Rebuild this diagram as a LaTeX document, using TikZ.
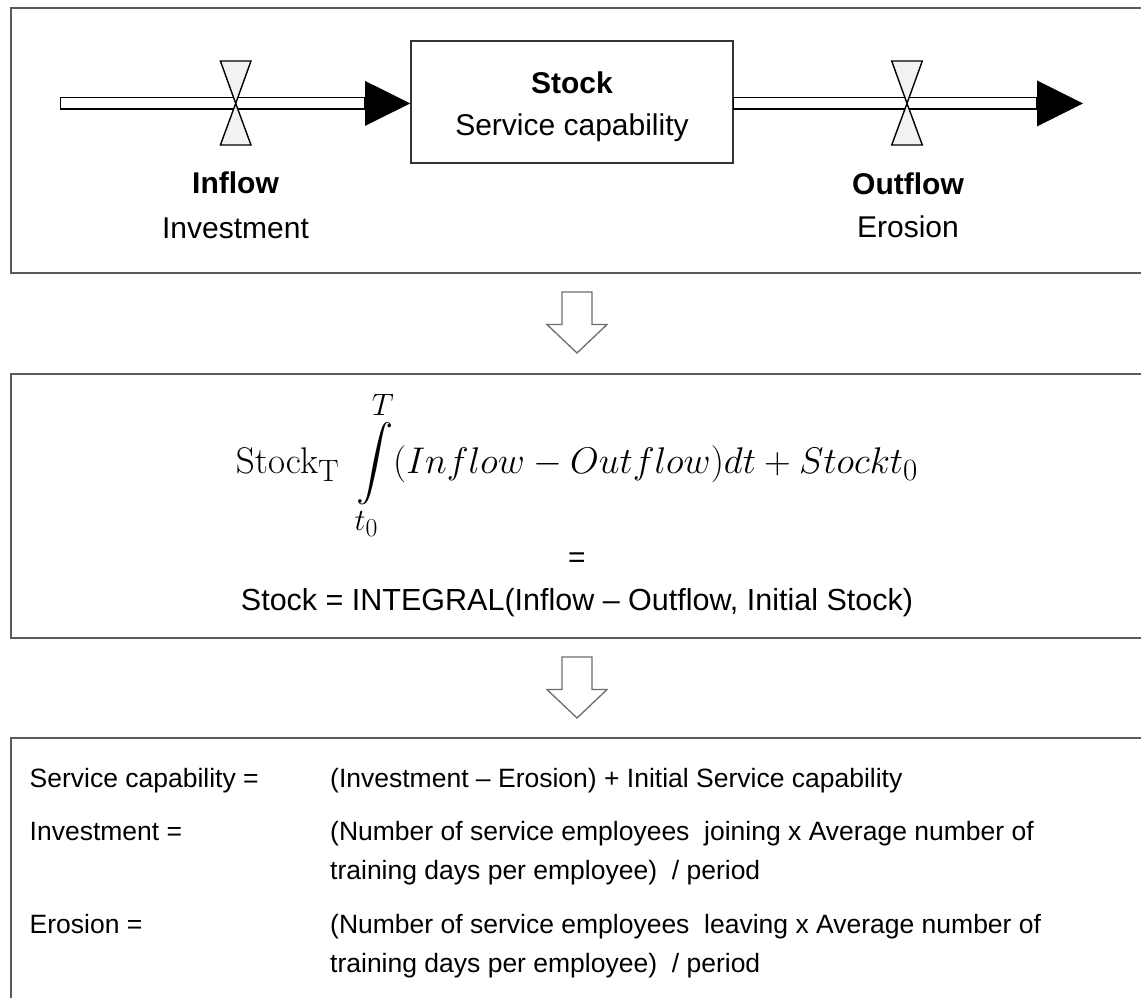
\documentclass[tikz,border=0pt]{standalone}
\usepackage[no-math]{fontspec}
\setmainfont{Liberation Sans}
\usepackage{exscale}
\usepackage{graphicx}
\usetikzlibrary{calc}

\definecolor{panelgrey}{HTML}{5A5A5A}
\definecolor{valvefill}{HTML}{F2F2F2}
\definecolor{arrowgrey}{HTML}{6E6E6E}

\tikzset{
  panel/.style={draw=panelgrey, line width=2pt, anchor=north west, inner sep=0pt, minimum width=1200pt},
  stockbox/.style={draw=black!80, line width=1.4pt, inner sep=0pt, minimum width=322pt, minimum height=122pt},
  pipebody/.style={draw=black, fill=white, line width=1.3pt},
  headfill/.style={fill=black},
  valve/.style={draw=black, fill=valvefill, line width=1.4pt, line join=miter},
  blockarrow/.style={draw=arrowgrey, fill=white, line width=1.3pt, line join=miter},
  bigtext/.style={font=\fontsize{30}{36}\selectfont, inner sep=0pt, anchor=base},
  listtext/.style={font=\fontsize{26.5}{32}\selectfont, inner sep=0pt, anchor=base west},
}

\begin{document}
\begin{tikzpicture}[x=1pt, y=-1pt]
\useasboundingbox (0,0) rectangle (1141,997);
\clip (0,0) rectangle (1141,997);
\fill[white] (0,0) rectangle (1141,997);

% three panels, open to the right and bottom
\node[panel, minimum height=264.5pt] (toppanel) at (9.5,7) {};
\node[panel, minimum height=264pt] (midpanel) at (9.5,373) {};
\node[panel, minimum height=300pt] (botpanel) at (9.5,737) {};

% stock box
\node[stockbox] (stock) at (572,102) {};
\node[bigtext] (stocktitle) at (572,93) {\bfseries Stock};
\node[bigtext] (stocksub) at (572,135) {Service capability};

% pipe geometry
\coordinate (src) at (60.7,103.4);
\coordinate (inbase) at (365,103.4);
\coordinate (intip) at (stock.west |- src);
\coordinate (outstart) at (stock.east |- src);
\coordinate (outbase) at (1037,103.4);
\coordinate (sink) at (1083,103.4);

\draw[pipebody] ([yshift=5.6pt]src) rectangle ([yshift=-5.6pt]inbase);
\draw[pipebody] ([yshift=5.6pt]outstart) rectangle ([yshift=-5.6pt]outbase);

\fill[headfill] ([yshift=22.5pt]inbase) -- (intip) -- ([yshift=-22.5pt]inbase) -- cycle;
\fill[headfill] ([yshift=23pt]outbase) -- (sink) -- ([yshift=-23pt]outbase) -- cycle;

% valves on the pipes
\coordinate (vin) at (235.7,103.4);
\coordinate (vout) at (907,103.4);
\foreach \v in {vin,vout} {
  \draw[valve] (\v) -- ++(-15.3,-42.4) -- ++(30.6,0) -- cycle;
  \draw[valve] (\v) -- ++(-15.3,41.6) -- ++(30.6,0) -- cycle;
}

% flow labels
\node[bigtext] (inlbl) at (235.5,193) {\bfseries Inflow};
\node[bigtext] (insub) at (235.5,238) {Investment};
\node[bigtext] (outlbl) at (908,194) {\bfseries Outflow};
\node[bigtext] (outsub) at (908,237) {Erosion};

% hollow arrows between the panels
\coordinate (arrowA) at (577,292);
\coordinate (arrowB) at (577,657);
\foreach \a in {arrowA,arrowB} {
  \draw[blockarrow] (\a) ++(-15,0) -- ++(30,0) -- ++(0,32.5) -- ++(15,0)
    -- ++(-30,28.5) -- ++(-30,-28.5) -- ++(15,0) -- cycle;
}

% integral form
\node[anchor=base, inner sep=0pt, font=\fontsize{24.88}{30}\selectfont] (integral) at (577,473)
  {\resizebox{682pt}{!}{$\mathrm{Stock}_{\mathrm{T}}\;\displaystyle\int\limits_{t_0}^{T}(Inflow-Outflow)dt+Stockt_0$}};
\node[bigtext] (eqsign) at (577,567) {=};
\node[bigtext, font=\fontsize{30.5}{36}\selectfont] (vensim) at (577,610)
  {Stock = INTEGRAL(Inflow – Outflow, Initial Stock)};

% model equations
\node[listtext] (l1a) at (29.5,787) {Service capability =};
\node[listtext] (l1b) at (330,787) {(Investment – Erosion) + Initial Service capability};
\node[listtext] (l2a) at (29.5,840) {Investment =};
\node[listtext] (l2b) at (330,840) {(Number of service employees\ \ joining x Average number of};
\node[listtext] (l2c) at (330,879) {training days per employee)\ \ / period};
\node[listtext] (l3a) at (29.5,933) {Erosion =};
\node[listtext] (l3b) at (330,933) {(Number of service employees\ \ leaving x Average number of};
\node[listtext] (l3c) at (330,972) {training days per employee)\ \ / period};
\end{tikzpicture}
\end{document}
